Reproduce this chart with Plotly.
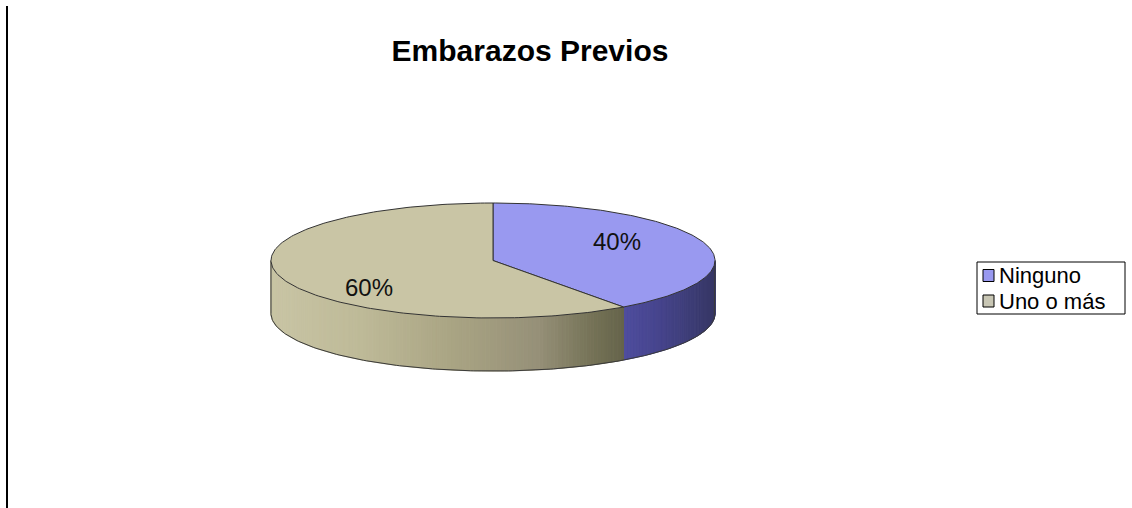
import numpy as np
import plotly.graph_objects as go

# ---- data ----
categories = ["Ninguno", "Uno o más"]
values = [40, 60]
title_text = "Embarazos Previos"

# ---- style ----
W, H = 1132, 508
top_colors = ["#9999F0", "#C9C5A5"]
legend_colors = ["#9999F0", "#C8C6B4"]
# side shading stops (u = horizontal position -1..1 -> rgb)
side_stops = [
    [(0.50, (84, 82, 168)), (0.75, (70, 68, 140)), (0.90, (60, 60, 116)), (1.00, (54, 54, 100))],
    [(-1.00, (200, 196, 164)), (-0.60, (190, 186, 152)), (-0.20, (170, 165, 132)),
     (0.20, (150, 144, 120)), (0.45, (116, 114, 86)), (0.62, (98, 96, 72))],
]
FONT = "Liberation Sans, Arial, sans-serif"

# pie geometry in data units (x radius = 1)
RY = 0.259      # vertical radius of the tilted top face
DEPTH = 0.239   # thickness of the disc
PX_PER_UNIT = 222.0
CX_PX, CY_PX = 493.0, 260.5
x_range = [-CX_PX / PX_PER_UNIT, (W - CX_PX) / PX_PER_UNIT]
y_range = [-(H - CY_PX) / PX_PER_UNIT, CY_PX / PX_PER_UNIT]


def top_pt(t):
    t = np.radians(t)
    return np.sin(t), RY * np.cos(t)


def interp_color(stops, u):
    us = [s[0] for s in stops]
    rgb = [np.interp(u, us, [s[1][k] for s in stops]) for k in range(3)]
    return "rgb({:.0f},{:.0f},{:.0f})".format(*rgb)


total = float(sum(values))
bounds = np.concatenate([[0.0], np.cumsum(values) / total * 360.0])

fig = go.Figure()

# ---- side of the disc (front half, 90..270 deg clockwise from top) ----
n_strips = 180
edges = np.linspace(90, 270, n_strips + 1)
for a, b in zip(edges[:-1], edges[1:]):
    mid = 0.5 * (a + b)
    idx = int(np.searchsorted(bounds, mid, side="right") - 1)
    idx = min(max(idx, 0), len(values) - 1)
    col = interp_color(side_stops[idx], np.sin(np.radians(mid)))
    ts = np.linspace(a, b, 3)
    xs_top, ys_top = top_pt(ts)
    xs = np.concatenate([xs_top, xs_top[::-1], [xs_top[0]]])
    ys = np.concatenate([ys_top, ys_top[::-1] - DEPTH, [ys_top[0]]])
    fig.add_trace(go.Scatter(x=xs, y=ys, mode="lines", fill="toself",
                             fillcolor=col, line=dict(color=col, width=1),
                             hoverinfo="skip", showlegend=False))

# side outline: bottom arc and vertical edges
ts = np.linspace(90, 270, 200)
bx, by = top_pt(ts)
ex = np.concatenate([[bx[0]], bx, [bx[-1]]])
ey = np.concatenate([[by[0]], by - DEPTH, [by[-1]]])
fig.add_trace(go.Scatter(x=ex, y=ey, mode="lines",
                         line=dict(color="#3a3a3a", width=1),
                         hoverinfo="skip", showlegend=False))

# ---- top face sectors ----
for i, cat in enumerate(categories):
    t0, t1 = bounds[i], bounds[i + 1]
    ts = np.linspace(t0, t1, 200)
    ax, ay = top_pt(ts)
    xs = np.concatenate([[0], ax, [0]])
    ys = np.concatenate([[0], ay, [0]])
    fig.add_trace(go.Scatter(x=xs, y=ys, mode="lines", fill="toself",
                             fillcolor=top_colors[i],
                             line=dict(color="#333333", width=1),
                             name=cat, hoverinfo="skip", showlegend=False))

# ---- percentage labels ----
LAB_RX, LAB_RY, LAB_DY = 0.585, 0.328, -0.018
for i, v in enumerate(values):
    mid = np.radians(0.5 * (bounds[i] + bounds[i + 1]))
    fig.add_annotation(x=LAB_RX * np.sin(mid), y=LAB_DY + LAB_RY * np.cos(mid),
                       text=f"{v / total * 100:.0f}%", showarrow=False,
                       font=dict(family=FONT, size=24, color="#111111"),
                       xanchor="center", yanchor="middle")

# ---- legend ----
def px(x):
    return x / W


def py(y):
    return 1 - y / H


fig.add_shape(type="rect", xref="paper", yref="paper",
              x0=px(977), x1=px(1125), y0=py(262), y1=py(314),
              line=dict(color="#000000", width=1), fillcolor="white")
row_y = [275.5, 301.0]
for i, cat in enumerate(categories):
    fig.add_shape(type="rect", xref="paper", yref="paper",
                  x0=px(983), x1=px(994), y0=py(row_y[i] - 6), y1=py(row_y[i] + 6),
                  line=dict(color="#000000", width=1), fillcolor=legend_colors[i])
    fig.add_annotation(xref="paper", yref="paper", x=px(997), y=py(row_y[i]),
                       text=cat, showarrow=False, xanchor="left", yanchor="middle",
                       font=dict(family=FONT, size=22, color="#000000"))

# left frame line
fig.add_shape(type="line", xref="paper", yref="paper",
              x0=px(7), x1=px(7), y0=py(6), y1=0,
              line=dict(color="#000000", width=2))

fig.update_layout(
    width=W, height=H,
    margin=dict(l=0, r=0, t=0, b=0),
    paper_bgcolor="white", plot_bgcolor="white",
    title=dict(text=f"<b>{title_text}</b>", x=530 / W, xanchor="center",
               y=1 - 50 / H, yanchor="middle",
               font=dict(family=FONT, size=30, color="#000000")),
    xaxis=dict(range=x_range, visible=False, fixedrange=True),
    yaxis=dict(range=y_range, visible=False, fixedrange=True),
    showlegend=False,
)

fig.write_html("out.html")
